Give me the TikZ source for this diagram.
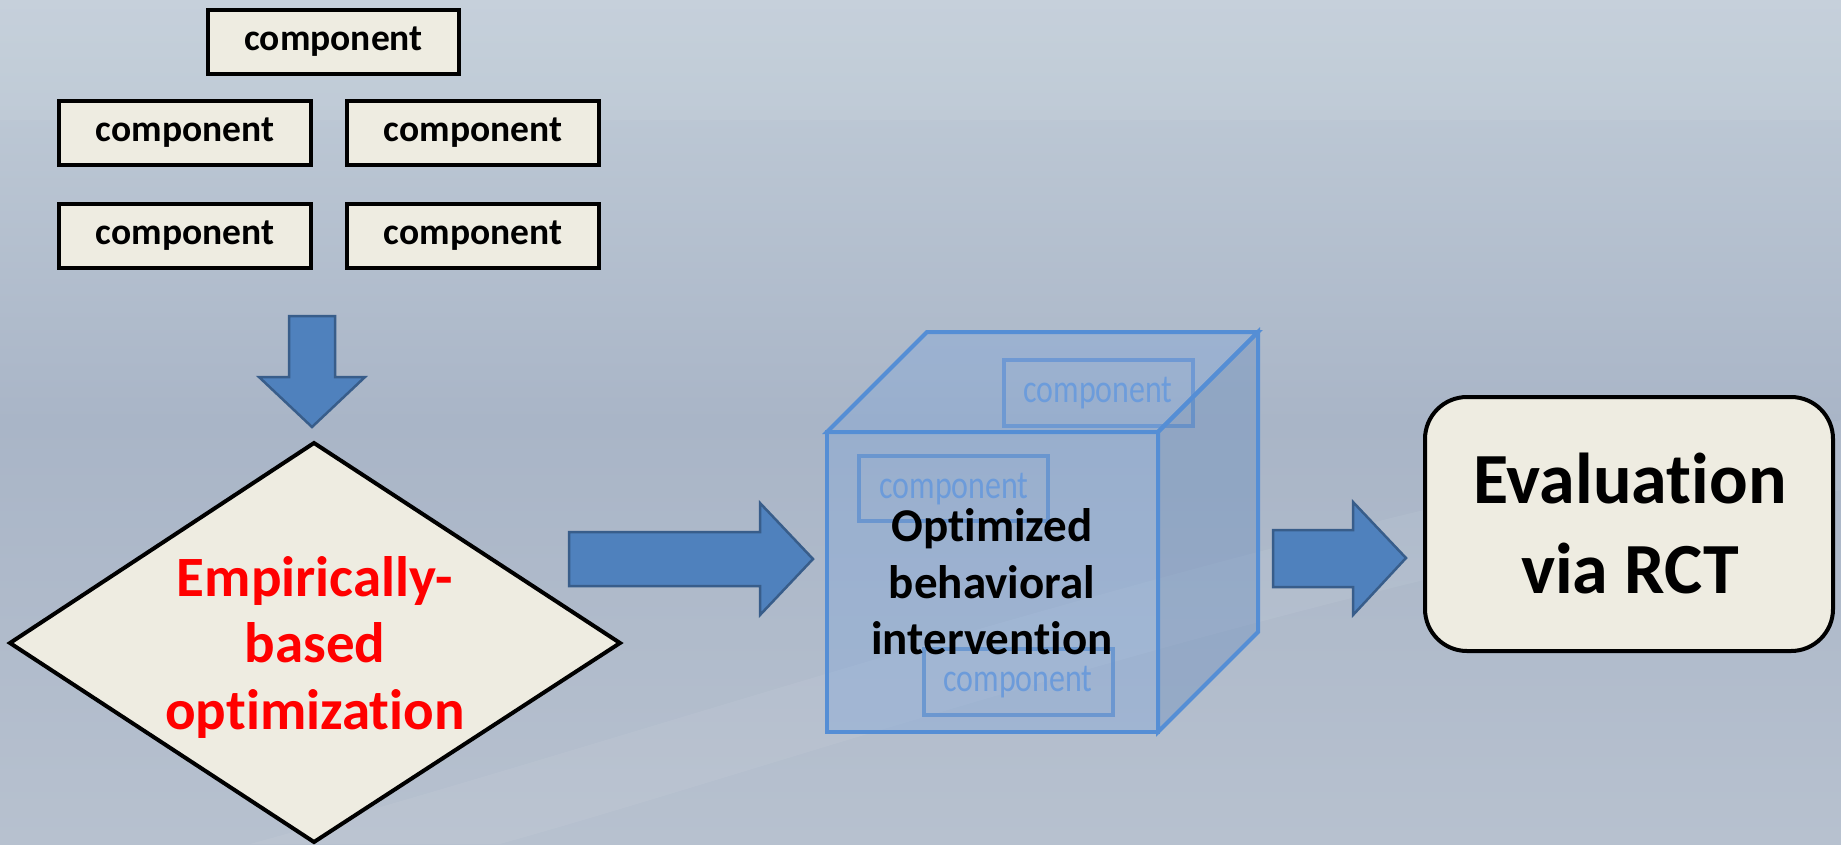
\documentclass[tikz,border=0pt]{standalone}
\usepackage{fontspec}
\setmainfont{Carlito}[Ligatures={NoCommon,NoContextual,NoRequired}]
\usetikzlibrary{calc}
\definecolor{cream}{HTML}{EEECE1}
\definecolor{arrfill}{HTML}{4F81BD}
\definecolor{arrline}{HTML}{385D8A}
\definecolor{cubeline}{HTML}{558ED5}
\definecolor{cubefill}{HTML}{6F9FE0}
\definecolor{innerline}{HTML}{5B8ED0}
\definecolor{innertext}{HTML}{6C9BDA}
\definecolor{bgtop}{HTML}{C3CED9}
\definecolor{bgmid}{HTML}{A9B5C7}
\definecolor{bgbot}{HTML}{B7C1CF}
\definecolor{evred}{HTML}{FF0000}
\tikzset{
  compbox/.style={draw=black, line width=4pt, fill=cream, minimum width=252pt, minimum height=64pt, inner sep=0pt,
    font=\bfseries\fontsize{37.5}{37.5}\selectfont},
  blockarrow/.style={fill=arrfill, draw=arrline, line width=2.5pt, line join=miter},
  cubeface/.style={fill=cubefill, fill opacity=0.28, draw=cubeline, draw opacity=1, line width=4pt, line join=miter},
  innerbox/.style={draw=innerline, draw opacity=0.75, line width=4pt},
  innerlabel/.style={text=innertext, font=\fontsize{32}{32}\selectfont, inner sep=0pt},
}
\newcommand{\tallcomp}[1]{\scalebox{1}[1.25]{#1}}
\newcommand{\tsep}{\kern0pt }
\begin{document}
\begin{tikzpicture}[x=1pt,y=-1pt]
\useasboundingbox (0,0) rectangle (1841,844);
% background
\shade[top color=bgtop, bottom color=bgbot, middle color=bgmid] (0,0) rectangle (1841,844);
\fill[white, opacity=0.06] (250,844) .. controls (700,720) and (1200,540) .. (1841,420)
  -- (1841,490) .. controls (1250,600) and (800,760) .. (500,844) -- cycle;
\fill[white, opacity=0.06] (0,0) rectangle (1841,120);

% component boxes
\node[compbox, minimum width=251pt] (c1) at (333.5,42) {component};
\node[compbox] (c2) at (185,133) {component};
\node[compbox] (c3) at (473,133) {component};
\node[compbox] (c4) at (185,235.5) {component};
\node[compbox] (c5) at (473,235.5) {component};

% down arrow
\draw[blockarrow] (289,316) -- (335,316) -- (335,377) -- (365,377) -- (312,427) -- (259,377) -- (289,377) -- cycle;

% diamond
\coordinate (dT) at (314,443);
\coordinate (dR) at (620,643);
\coordinate (dB) at (314,842);
\coordinate (dL) at (10,643);
\draw[line width=4pt, fill=cream, line join=miter] (dT) -- (dR) -- (dB) -- (dL) -- cycle;
\node[text=evred, align=center, font=\bfseries\fontsize{57}{66.5}\selectfont, inner sep=0pt] (opt) at (315,647)
  {Empirically-\\based\\optimizat\tsep ion};

% right arrow 1
\draw[blockarrow] (569,532) -- (760,532) -- (760,503) -- (813,559) -- (760,615) -- (760,586) -- (569,586) -- cycle;

% cube: back component
\draw[innerbox] (1004,360) rectangle (1193,426);
\node[innerlabel] (ic1) at (1098,393) {\tallcomp{component}};
% cube faces
\coordinate (f1) at (827,432);
\coordinate (f2) at (1158,432);
\coordinate (f3) at (1158,732);
\coordinate (f4) at (827,732);
\coordinate (b1) at (927,332);
\coordinate (b2) at (1258,332);
\coordinate (b3) at (1258,632);
\fill[black, opacity=0.07] (f2) -- (b2) -- (b3) -- (f3) -- cycle;
\draw[cubeface] (f1) -- (b1) -- (b2) -- (f2) -- cycle;
\draw[cubeface] (f2) -- (b2) -- (b3) -- (f3) -- cycle;
\draw[cubeface] (f1) -- (f2) -- (f3) -- (f4) -- cycle;
% front components
\draw[innerbox] (859,456) rectangle (1048,521);
\node[innerlabel] (ic2) at (954,489) {\tallcomp{component}};
\draw[innerbox] (924,649) rectangle (1113,715);
\node[innerlabel] (ic3) at (1018,682) {\tallcomp{component}};
\node[align=center, font=\bfseries\fontsize{47}{56.5}\selectfont, inner sep=0pt] (obi) at (992,582)
  {Opt\tsep imized\\behavioral\\intervent\tsep ion};

% right arrow 2
\draw[blockarrow] (1273,530) -- (1353,530) -- (1353,502) -- (1406,558) -- (1353,615) -- (1353,587) -- (1273,587) -- cycle;

% evaluation box
\draw[line width=4pt, fill=cream, rounded corners=42pt] (1425,397) rectangle (1833,651);
\node[align=center, font=\bfseries\fontsize{72}{90}\selectfont, inner sep=0pt] (ev) at (1630,523)
  {Evaluat\tsep ion\\via RCT};
\end{tikzpicture}
\end{document}
